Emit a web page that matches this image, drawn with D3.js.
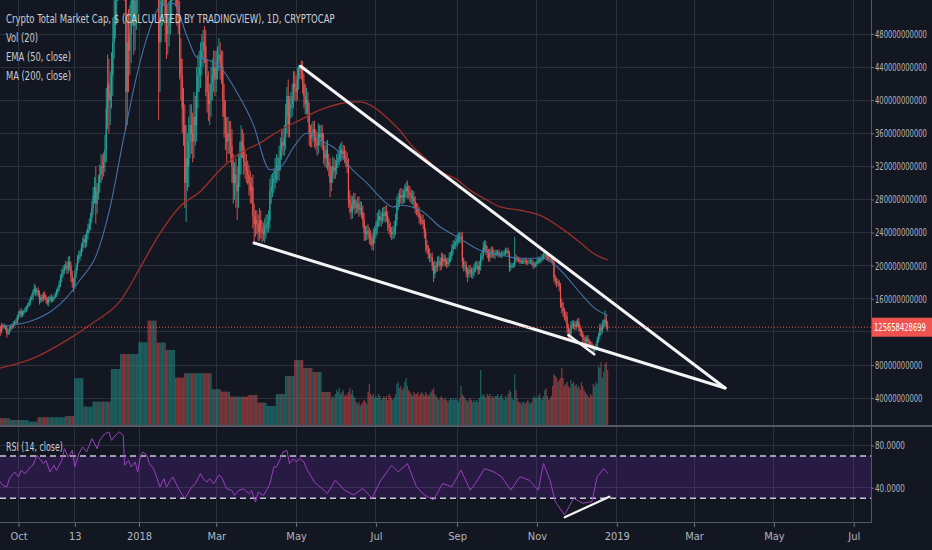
<!DOCTYPE html>
<html>
<head>
<meta charset="utf-8">
<title>Crypto Total Market Cap</title>
<script src="https://cdn.jsdelivr.net/npm/d3@7/dist/d3.min.js"></script>
<style>
  body { margin: 0; background: #131722; overflow: hidden; }
  svg { display: block; }
</style>
</head>
<body>
<svg id="chart"></svg>
<script>
var width = 932;
var height = 550;

///////////////////////////////////////////////////////////////////////////////////////////////////////////
// DATA  (market cap and volume in billions of USD, one value per day)

var firstDay = "2017-09-16";   // date of closes[0]
var firstOpen = 121;

var closes = [
  // Sep 16-30 2017
  124,120,128,126,127,125,118,120,123,127,126,130,132,131,138,
  // Oct 2017
  142,145,140,143,145,147,150, 152,155,160,162,168,172,168, 170,165,158,162,160,165,162, 158,155,160,162,158,160,162, 165,168,172,
  // Nov 2017
  178,185,190,195,198,200,196, 205,200,188,180,176,190,198, 208,212,215,222,228,232,228, 238,245,250,258,270,285,295, 275,290,
  // Dec 2017
  300,310,320,318,325,340,390, 420,400,410,430,470,500,520, 550,580,600,620,610,590,560, 410,470,460,480,520,530,490, 520,530,560,
  // Jan 2018
  580,620,680,700,750,790,820, 760,720,700,740,720,740,700, 680,470,500,520,540,560,500, 480,490,500,520,540,560,570, 540,510,500,
  // Feb
  450,430,390,370,300,330,320, 350,370,360,350,380,370,410, 430,440,450,460,470,465,430, 410,395,400,420,430,440,425,
  // Mar
  440,450,455,445,440,400,380, 360,350,360,355,345,320,300, 310,300,290,310,330,350,345, 325,320,315,310,300,290,295, 260,250,255,
  // Apr
  250,240,255,245,240,238,245, 250,252,255,290,295,300,305, 315,320,315,330,340,350,345, 355,380,405,370,390,395,405, 420,415,
  // May
  410,425,440,438,435,420,405, 395,400,385,360,355,360,365, 355,350,345,360,355,360,350, 335,330,340,325,320,300,310, 320,315,318,
  // Jun
  325,330,335,340,335,338,332, 328,320,280,275,265,275,280, 270,272,275,268,270,265,255, 240,238,242,240,235,232,225, 235,240,
  // Jul
  245,255,260,255,258,262,260, 265,260,250,245,240,238,240, 245,255,275,280,285,282,285, 283,290,295,290,288,285,282, 283,278,270,
  // Aug
  268,265,258,255,255,250,240, 225,220,215,210,210,200,190, 200,198,205,205,200,210,205, 208,205,202,205,210,212,220, 225,225,228,
  // Sep
  232,235,233,235,205,200,200, 192,190,195,193,190,192,198, 200,200,195,200,210,212,222, 225,218,215,210,215,218,215, 213,215,
  // Oct
  215,216,213,213,214,215,215, 218,218,215,198,200,200,201, 210,208,208,207,205,205,205, 206,205,204,205,205,205,204, 200,201,202,
  // Nov
  205,207,206,208,210,212,213, 211,209,208,208,207,205,185, 182,180,180,175,155,150,145, 140,138,125,120,118,128,130, 128,126,
  // Dec 1-25
  130,132,125,120,118,112,110, 108,112,108,106,105,102,100, 100,102,110,115,125,122,128, 130,135,128,125.66
];

// wick above the candle body / below the candle body
var wickUp = [
  3,4,3,2,3,2,3,4,3,2,3,3,2,4,3,
  3,2,4,3,2,3,2, 3,4,3,4,3,6,4, 3,4,5,3,4,3,4, 3,4,3,2,4,3,3, 3,4,3,
  4,5,6,5,4,6,5, 6,7,5,6,5,4,5, 5,6,4,5,6,5,6, 5,6,7,6,8,10,12, 25,10,
  10,12,15,14,12,18,25, 35,30,25,28,30,30,35, 30,35,40,40,35,30,30, 40,35,40,35,30,35,35, 30,30,30,
  25,30,35,30,40,40,35, 30,30,35,30,30,25,30, 30,30,40,30,25,30,30, 25,25,20,25,20,25,20, 20,20,20,
  20,25,20,25,25,40,30, 30,25,25,25,30,25,30, 25,20,20,20,15,20,20, 20,25,20,20,20,20,20,
  20,15,20,15,15,20,20, 20,20,20,15,20,20,15, 15,20,20,25,20,20,15, 15,15,15,12,12,15,12, 15,15,12,
  12,12,15,12,10,12,12, 12,10,12,15,15,12,12, 15,15,12,15,15,15,15, 15,15,11,20,15,15,15, 15,15,
  15,15,3,2,10,12,12, 15,15,10,12,10,12,10, 10,10,12,12,10,10,10, 10,10,10,12,10,10,10, 12,10,10,
  10,9,10,8,10,8,7, 8,9,10,11,10,9,8, 8,7,8,9,8,7,8, 9,8,7,8,6,8,7, 10,8,
  8,9,7,8,7,8,9, 7,8,6,7,8,7,8, 9,8,9,8,7,9,8, 7,8,6,8,7,8,7, 8,7,6,
  6,7,6,5,6,7,6, 5,6,5,6,5,6,5, 6,5,6,7,5,6,5, 6,5,4,5,6,5,6, 6,5,6,
  6,5,6,5,6,5,6, 5,6,5,6,5,6,5, 5,6,5,6,5,6,7, 6,5,6,5,6,5,5, 5,4,
  4,3,4,3,4,3,4, 4,3,4,3,4,3,3, 25,4,3,3,3,3,3, 3,3,3,2,3,3,3, 3,3,3,
  3,4,3,4,4,4,4, 3,3,3,3,3,3,3, 4,4,4,3,4,5,6, 4,5,6,5,4,5,4, 4,5,
  4,4,5,4,4,3,4, 4,4,4,3,3,3,3, 3,4,4,4,5,5,6, 5,11,6,5
];
var wickDown = [
  4,5,2,3,2,3,5,2,3,2,3,2,3,2,2,
  3,4,3,2,3,2,3, 3,2,3,2,4,3,5, 4,3,5,3,4,3,3, 4,3,4,3,3,2,3, 2,3,3,
  3,4,5,4,5,4,6, 5,6,8,7,8,4,5, 4,5,6,4,5,6,7, 5,6,5,7,6,8,10, 24,12,
  10,12,10,14,10,12,15, 25,40,30,20,25,20,25, 25,30,30,35,40,35,40, 46,40,50,30,35,30,35, 30,35,25,
  25,30,25,30,30,35,40, 40,45,40,35,35,30,35, 40,94,60,30,30,25,30, 30,25,25,20,25,20,25, 25,20,20,
  25,30,30,25,30,47,30, 25,20,25,25,20,25,20, 20,20,25,20,20,20,25, 25,20,25,20,20,20,20,
  15,15,15,20,20,20,25, 20,25,15,20,20,20,25, 20,30,35,20,15,20,15, 15,15,15,12,15,15,15, 15,22,15,
  12,10,10,12,12,8,10, 12,10,12,10,15,12,12, 12,15,12,12,15,12,12, 12,15,20,15,15,12,15, 15,15,
  12,10,12,12,10,12,15, 12,12,12,15,12,12,10, 12,10,12,10,10,12,10, 12,10,12,10,12,17,10, 10,10,10,
  8,7,8,9,8,7,8, 9,8,10,12,9,8,7, 8,7,8,9,7,8,9, 10,8,7,8,9,8,6, 7,8,
  7,8,8,7,8,7,6, 8,7,8,7,6,7,6, 7,8,7,8,9,7,8, 8,7,8,9,7,8,7, 8,9,7,
  7,6,7,6,5,6,7, 8,6,7,6,5,6,10, 5,6,5,6,6,5,6, 5,6,5,4,5,6,5, 6,5,5,
  5,6,5,6,8,7,6, 6,10,5,6,5,6,5, 6,5,6,5,6,5,5, 6,5,6,5,5,6,5, 4,5,
  3,4,3,3,4,3,3, 3,4,3,6,4,3,3, 3,4,3,3,3,3,3, 3,3,3,3,3,3,3, 4,3,3,
  3,3,3,3,3,3,3, 4,3,3,3,3,4,5, 5,6,5,6,6,8,7, 6,6,7,8,6,5,4, 5,4,
  4,4,4,5,4,5,4, 4,4,4,3,3,4,5, 4,3,3,3,4,6,4, 4,4,5,5
];

// volume: weekly values (weeks starting Monday) until late May 2018, daily after that
var volumeWeekStart = "2017-09-11";
var weeklyVolume = [
  4, 3.9, 3, 3, 2.2, 4.4, 4.4, 4.4, 5, 23.9, 9.7, 12.2, 12.2, 28.5, 36, 36,
  41.9, 52.7, 41.7, 38, 24.2, 26.4, 26.4, 26.4, 18.4, 17.2, 14.7, 14.7, 15.5,
  11.7, 10, 16, 25, 33, 29, 27, 17
];
var volumeDailyStart = "2018-05-28";
var dailyVolume = [
  14,15,14,16,
  18,17,19,16,17,18,15, 16,15,17,19,16,18,15, 14,12,11,12,10,11,12, 13,12,11,17,21,16,15, 16,14,
  15,14,16,15,13,14,15, 14,15,13,16,15,14,13, 14,16,21,22,19,20,18, 19,22,24,20,18,17,16, 15,17,16,
  16,17,15,16,17,16,15, 17,16,15,16,17,18,19, 16,15,14,13,14,15,14, 13,14,13,12,13,14,13, 14,13,14,
  13,12,14,20,16,15,14, 13,12,13,14,13,12,13, 12,13,12,14,28,15,16, 15,14,16,15,16,14,15, 14,15,
  15,16,14,15,16,14,13, 15,14,16,18,17,14,13, 26,18,14,12,12,11,12, 12,11,12,13,12,11,12, 14,15,14,
  14,15,16,14,13,15,18, 19,15,13,14,15,20,26, 25,24,22,23,24,29,24, 20,21,22,20,19,23,21, 22,20,
  21,19,20,18,22,20,18, 17,16,15,14,16,15,21, 20,22,21,30,29,32,24, 27,31,32,28
];

// indicator lines: day number (0 = firstDay) and value
var emaDay   = [5,26,39,52,62,75,85,95,105,115,123,133,144,151,159,169,182,194,207,215,225,235,245,258,270,281,291,301,306,322,337,352,367,383,398,416,423,434,444,454,465];
var emaValue = [127,134,144,162,183,215,271,352,428,485,513,517,476,452,449,440,409,372,316,319,343,360,352,340,316,300,283,271,273,267,247,233,219,213,209,209,203,186,167,150,140];

var maDay   = [0,26,52,72,93,108,123,138,154,169,184,199,215,230,245,261,271,276,286,297,306,316,327,337,350,360,370,383,398,413,429,444,454,465];
var maValue = [76,88,110,131,158,198,239,271,290,316,336,348,364,376,388,396,398,398,392,378,364,344,328,314,304,291,282,271,267,261,246,228,215,207];

var rsiDay = [0,3,6,8,12,15,17,20,24,26,29,31,34,36,39,42,44,48,50,53,56,58,61,64,67,71,75,77,81,84,
  86,89,92,95,96,99,101,104,106,108,110,113,115,118,120,123,126,128,131,133,136,138,142,145,147,150,154,156,159,161,
  164,168,170,174,178,180,183,187,191,193,196,198,202,205,207,210,212,215,217,220,222,225,227,230,233,235,238,241,244,251,
  257,264,271,278,285,291,300,305,312,319,325,332,339,346,353,360,364,371,378,384,391,398,405,412,416,421,425,432,439,446,
  453,457,462,465];
var rsiValue = [46.9,42.2,40.6,48.5,54.8,50.1,56.4,53.3,59.6,61.2,70.6,67.4,62.7,65.8,54.8,61.2,56.4,65.8,76.9,69,
  75.3,59.6,72.2,78.5,73.8,86.4,76.9,84.8,91.1,92.7,84.8,89.5,92.7,89.5,61.2,65.8,59.6,64.3,54.8,69,
  73.8,70.6,62.7,58,51.7,40.6,48.5,40.6,47.2,50.1,42.2,37.4,29.6,35.8,40.6,43.7,53.3,48.5,45.3,48.5,
  43.7,51.7,50.1,39,37.4,32.7,37.4,39,34.2,37.4,26.4,35.8,32.7,39,43.7,59.6,59.6,67.4,73.8,75.3,
  62.7,67.4,64.3,67.4,64.3,58,51.7,45.3,42.2,34.6,47.1,37.7,33.1,39.4,30,45.6,61.2,55,62.8,40.9,
  33.1,28.4,44,40.9,56.6,37.7,44,58.1,55,50.3,37.7,50.3,47.1,37.7,62.8,47.1,26.8,14.3,30,25.3,
  26.8,50.3,58.1,53.4];

// hand drawn trend lines: [day, value] end points
var priceTrendLines = [
  [[230.5, 441], [554.7, 52.2]],
  [[194.9, 227.4], [554.7, 52.2]],
  [[435, 116.3], [454.8, 92.9]]
];
var rsiTrendLine = [[432.2, 12], [466.3, 31.5]];

var lastPrice = 125658428699;
var priceTicks = [40, 80, 120, 160, 200, 240, 280, 320, 360, 400, 440, 480];
var rsiTicks = [40, 80];
var rsiBand = [30, 70];
var timeTicks = ["2017-10-01","2017-11-13","2018-01-01","2018-03-01","2018-05-01","2018-07-01",
                 "2018-09-01","2018-11-01","2019-01-01","2019-03-01","2019-05-01","2019-07-01"];
var timeLabels = ["Oct","13","2018","Mar","May","Jul","Sep","Nov","2019","Mar","May","Jul"];
var legendLines = ["Crypto Total Market Cap, $ (CALCULATED BY TRADINGVIEW), 1D, CRYPTOCAP",
                   "Vol (20)", "EMA (50, close)", "MA (200, close)"];
var rsiLegend = "RSI (14, close)";

///////////////////////////////////////////////////////////////////////////////////////////////////////////
// layout + scales

var axisX = 871;          // left edge of the price axis
var mainBottom = 425;     // price pane ends here
var rsiTop = 426;
var rsiBottom = 522;
var fontStack = '"Liberation Sans Narrow", "DejaVu Sans Condensed", "Liberation Sans", sans-serif';

var parse = d3.utcParse("%Y-%m-%d");
var DAY = 864e5;
var day0 = parse(firstDay);
function dayDate(i) { return new Date(+day0 + i * DAY); }

var x = d3.scaleUtc()
  .domain([parse("2018-01-01"), parse("2019-01-01")])
  .range([139, 616.8]);

var y = d3.scaleLinear().domain([0, 480]).range([431.2, 34]);      // price, billions
var yVol = d3.scaleLinear().domain([0, 100]).range([426, 226]);     // volume overlay
var yRsi = d3.scaleLinear().domain([0, 100]).range([530, 424.25]);

var step = x(dayDate(1)) - x(dayDate(0));

var weekStart = parse(volumeWeekStart);
var dailyStart = parse(volumeDailyStart);

var candles = closes.map(function(c, i) {
  var o = i === 0 ? firstOpen : closes[i - 1];
  var t = dayDate(i);
  var v = t < dailyStart
    ? weeklyVolume[Math.floor((t - weekStart) / (7 * DAY))]
    : dailyVolume[Math.round((t - dailyStart) / DAY)];
  return { t: t, o: o, c: c, h: Math.max(o, c) + wickUp[i], l: Math.min(o, c) - wickDown[i], v: v };
});

// squeeze a text horizontally to a given width (the screenshot font is condensed)
function squeeze(sel, target) {
  sel.each(function(d, i) {
    var t = d3.select(this);
    var w = typeof target === "function" ? target(d, i) : target;
    var len = this.getComputedTextLength();
    var x0 = +t.attr("x") || 0;
    t.attr("x", 0).attr("transform", "translate(" + x0 + ",0) scale(" + (w / len) + ",1)");
  });
}

var svg = d3.select("#chart")
  .attr("width", width)
  .attr("height", height)
  .attr("viewBox", [0, 0, width, height]);

svg.append("rect").attr("width", width).attr("height", height).attr("fill", "#131722");

var defs = svg.append("defs");
defs.append("clipPath").attr("id", "clipMain")
  .append("rect").attr("x", 0).attr("y", 0).attr("width", axisX).attr("height", mainBottom);
defs.append("clipPath").attr("id", "clipRsi")
  .append("rect").attr("x", 0).attr("y", rsiTop).attr("width", axisX).attr("height", rsiBottom - rsiTop);

///////////////////////////////////////////////////////////////////////////////////////////////////////////
// grid

var grid = svg.append("g")
  .attr("stroke", "#2c303b")
  .attr("stroke-width", 1)
  .attr("shape-rendering", "crispEdges");

grid.selectAll("line.v")
  .data(timeTicks)
  .join("line")
    .attr("class", "v")
    .attr("x1", d => x(parse(d))).attr("x2", d => x(parse(d)))
    .attr("y1", 0).attr("y2", rsiBottom);

grid.selectAll("line.h")
  .data(priceTicks)
  .join("line")
    .attr("class", "h")
    .attr("x1", 0).attr("x2", axisX)
    .attr("y1", d => y(d)).attr("y2", d => y(d));

grid.selectAll("line.r")
  .data(rsiTicks)
  .join("line")
    .attr("class", "r")
    .attr("x1", 0).attr("x2", axisX)
    .attr("y1", d => yRsi(d)).attr("y2", d => yRsi(d));

///////////////////////////////////////////////////////////////////////////////////////////////////////////
// price pane: volume, candles, averages, trend lines

var main = svg.append("g").attr("clip-path", "url(#clipMain)");

main.append("g").selectAll("rect")
  .data(candles)
  .join("rect")
    .attr("x", d => x(d.t) - step / 2)
    .attr("width", step)
    .attr("y", d => yVol(d.v))
    .attr("height", d => yVol(0) - yVol(d.v))
    .attr("fill", d => d.c >= d.o ? "rgba(38,166,154,0.5)" : "rgba(239,83,80,0.5)");

var candleG = main.append("g");
candleG.selectAll("line")
  .data(candles)
  .join("line")
    .attr("x1", d => x(d.t)).attr("x2", d => x(d.t))
    .attr("y1", d => y(d.h)).attr("y2", d => y(d.l))
    .attr("stroke", d => d.c >= d.o ? "#26a69a" : "#ef5350")
    .attr("stroke-width", 0.9);
candleG.selectAll("rect")
  .data(candles)
  .join("rect")
    .attr("x", d => x(d.t) - 0.6)
    .attr("width", 1.2)
    .attr("y", d => y(Math.max(d.o, d.c)))
    .attr("height", d => Math.max(0.8, Math.abs(y(d.o) - y(d.c))))
    .attr("fill", d => d.c >= d.o ? "#26a69a" : "#ef5350");

var avgLine = d3.line()
  .x(d => x(dayDate(d[0])))
  .y(d => y(d[1]))
  .curve(d3.curveMonotoneX);

main.append("path")
  .attr("d", avgLine(d3.zip(maDay, maValue)))
  .attr("fill", "none")
  .attr("stroke", "#9c2f28")
  .attr("stroke-width", 1.3);

main.append("path")
  .attr("d", avgLine(d3.zip(emaDay, emaValue)))
  .attr("fill", "none")
  .attr("stroke", "#4470a6")
  .attr("stroke-width", 1.1);

main.append("g").selectAll("line")
  .data(priceTrendLines)
  .join("line")
    .attr("x1", d => x(dayDate(d[0][0]))).attr("y1", d => y(d[0][1]))
    .attr("x2", d => x(dayDate(d[1][0]))).attr("y2", d => y(d[1][1]))
    .attr("stroke", "#f4f4f4")
    .attr("stroke-width", (d, i) => i < 2 ? 3 : 2.5)
    .attr("stroke-linecap", "round");

// last price line
main.append("line")
  .attr("x1", 0).attr("x2", axisX)
  .attr("y1", y(lastPrice / 1e9)).attr("y2", y(lastPrice / 1e9))
  .attr("stroke", "#ef5350")
  .attr("stroke-width", 1)
  .attr("stroke-dasharray", "1,2");

///////////////////////////////////////////////////////////////////////////////////////////////////////////
// RSI pane

var rsiG = svg.append("g").attr("clip-path", "url(#clipRsi)");

rsiG.append("rect")
  .attr("x", 0).attr("width", axisX)
  .attr("y", yRsi(rsiBand[1]))
  .attr("height", yRsi(rsiBand[0]) - yRsi(rsiBand[1]))
  .attr("fill", "rgba(120,45,200,0.2)");

rsiG.selectAll("line.band")
  .data(rsiBand)
  .join("line")
    .attr("class", "band")
    .attr("x1", 0).attr("x2", axisX)
    .attr("y1", d => yRsi(d)).attr("y2", d => yRsi(d))
    .attr("stroke", "#c9c9d6")
    .attr("stroke-width", 1.4)
    .attr("stroke-dasharray", "6,4");

rsiG.append("path")
  .attr("d", d3.line().x(d => x(dayDate(d[0]))).y(d => yRsi(d[1]))(d3.zip(rsiDay, rsiValue)))
  .attr("fill", "none")
  .attr("stroke", "#9b3fbe")
  .attr("stroke-width", 1);

rsiG.append("line")
  .attr("x1", x(dayDate(rsiTrendLine[0][0]))).attr("y1", yRsi(rsiTrendLine[0][1]))
  .attr("x2", x(dayDate(rsiTrendLine[1][0]))).attr("y2", yRsi(rsiTrendLine[1][1]))
  .attr("stroke", "#f4f4f4")
  .attr("stroke-width", 2.2)
  .attr("stroke-linecap", "round");

///////////////////////////////////////////////////////////////////////////////////////////////////////////
// pane borders

var borders = svg.append("g").attr("stroke", "#555965").attr("shape-rendering", "crispEdges");
borders.append("line").attr("x1", 0).attr("x2", width).attr("y1", mainBottom + 0.5).attr("y2", mainBottom + 0.5).attr("stroke-width", 2);
borders.append("line").attr("x1", 0).attr("x2", axisX).attr("y1", rsiBottom + 0.5).attr("y2", rsiBottom + 0.5);
borders.append("line").attr("x1", axisX + 0.5).attr("x2", axisX + 0.5).attr("y1", 0).attr("y2", rsiBottom + 1);

///////////////////////////////////////////////////////////////////////////////////////////////////////////
// axes

function styleAxis(g) {
  g.attr("font-family", fontStack).attr("font-size", 10.5);
  g.select(".domain").remove();
  g.selectAll(".tick line").attr("stroke", "#6f7380");
  g.selectAll(".tick text").attr("fill", "#b2b5be");
}

var yAxisG = svg.append("g")
  .attr("transform", "translate(" + axisX + ",0)")
  .call(d3.axisRight(y).tickValues(priceTicks).tickSize(3).tickPadding(1)
    .tickFormat(d => d3.format("d")(d * 1e9)));
styleAxis(yAxisG);
// the last price label covers this tick
yAxisG.selectAll(".tick").filter(d => Math.abs(y(d) - y(lastPrice / 1e9)) < 10).select("text").remove();
squeeze(yAxisG.selectAll(".tick text"), d => d >= 100 ? 52 : 47.5);

var rsiAxisG = svg.append("g")
  .attr("transform", "translate(" + axisX + ",0)")
  .call(d3.axisRight(yRsi).tickValues(rsiTicks).tickSize(3).tickPadding(1).tickFormat(d3.format(".4f")));
styleAxis(rsiAxisG);
squeeze(rsiAxisG.selectAll(".tick text"), 30);

var xAxisG = svg.append("g")
  .attr("transform", "translate(0," + (rsiBottom + 1) + ")")
  .call(d3.axisBottom(x).tickValues(timeTicks.map(parse)).tickSize(4).tickPadding(5)
    .tickFormat((d, i) => timeLabels[i]));
styleAxis(xAxisG);
xAxisG.attr("font-size", 11);

// last price label
var lp = y(lastPrice / 1e9);
svg.append("rect")
  .attr("x", axisX + 1).attr("width", width - axisX - 1)
  .attr("y", lp - 9.5).attr("height", 19)
  .attr("fill", "#ef5350");
svg.append("text")
  .attr("x", axisX + 3).attr("y", lp)
  .attr("dy", "0.35em")
  .attr("fill", "#ffffff")
  .attr("font-family", fontStack)
  .attr("font-size", 10.5)
  .text(d3.format("d")(lastPrice))
  .call(squeeze, 52);

///////////////////////////////////////////////////////////////////////////////////////////////////////////
// legends

var legendLen = [329, 32, 65, 65];
svg.append("g").selectAll("text")
  .data(legendLines)
  .join("text")
    .attr("x", 6)
    .attr("y", (d, i) => 23 + i * 19)
    .attr("fill", "#c9ccd3")
    .attr("font-family", fontStack)
    .attr("font-size", 13)
    .text(d => d)
    .call(squeeze, (d, i) => legendLen[i]);

svg.append("text")
  .attr("x", 6).attr("y", 451.5)
  .attr("fill", "#c9ccd3")
  .attr("font-family", fontStack)
  .attr("font-size", 13)
  .text(rsiLegend)
  .call(squeeze, 57);
</script>
</body>
</html>
